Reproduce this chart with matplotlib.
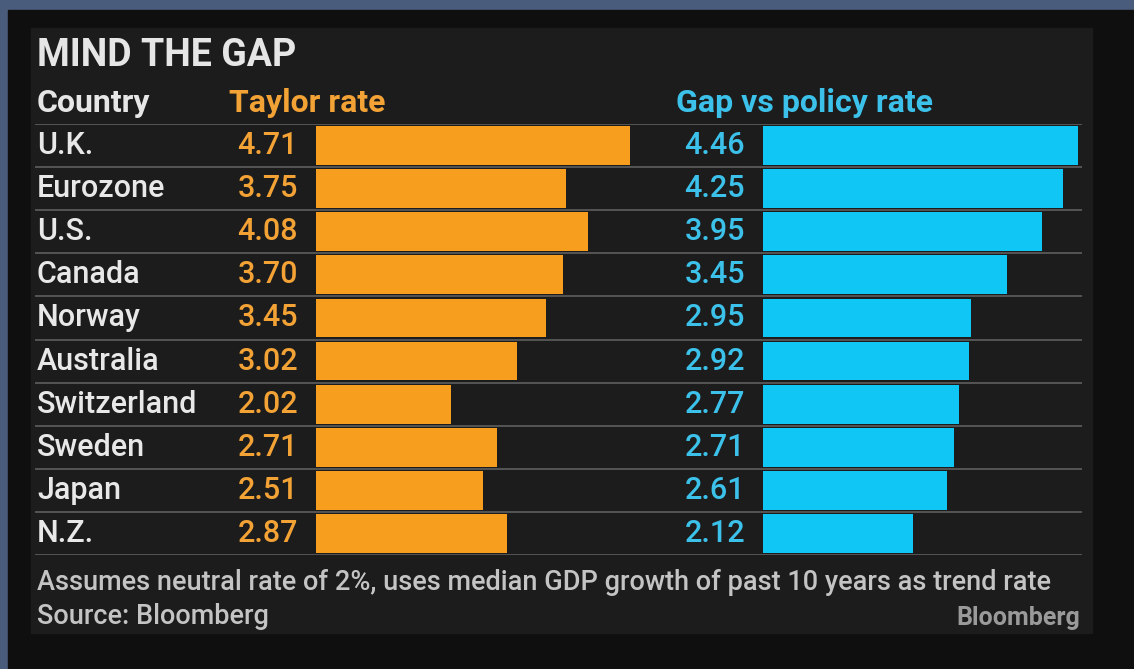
import matplotlib.pyplot as plt
from matplotlib.patches import Rectangle

countries = ['U.K.', 'Eurozone', 'U.S.', 'Canada', 'Norway', 'Australia',
             'Switzerland', 'Sweden', 'Japan', 'N.Z.']
taylor_rate = [4.71, 3.75, 4.08, 3.70, 3.45, 3.02, 2.02, 2.71, 2.51, 2.87]
policy_gap = [4.46, 4.25, 3.95, 3.45, 2.95, 2.92, 2.77, 2.71, 2.61, 2.12]

W, H = 1134, 669
ORANGE = '#f89e1e'
CYAN = '#0fc6f4'
FONT = 'Roboto'

fig = plt.figure(figsize=(W / 100, H / 100), dpi=100)
fig.patch.set_facecolor('#4a5c7c')


def box(x0, y0, x1, y1):
    # pixel box (top-left origin) -> figure fraction rect
    return [x0 / W, 1 - y1 / H, (x1 - x0) / W, (y1 - y0) / H]


def px(x, y):
    return x / W, 1 - y / H


# dark frame and the lighter chart panel
fig.add_artist(Rectangle(px(8, H), (W - 8) / W, (H - 10) / H,
                         transform=fig.transFigure, color='#0f0f0f', zorder=0))
fig.add_artist(Rectangle(px(31, 633), (1092 - 31) / W, (633 - 28) / H,
                         transform=fig.transFigure, color='#1c1c1c', zorder=0))

n = len(countries)
top, bottom = 124, 555
row_h = (bottom - top) / n

# row separators
grid = fig.add_axes(box(35, top, 1082, bottom))
grid.set_xlim(0, 1)
grid.set_ylim(n, 0)
grid.axis('off')
for k in range(n + 1):
    grid.axhline(k, color='#5a5a5a', lw=1.3)

# bar columns share the row layout, each scaled to its own maximum
ax1 = fig.add_axes(box(316, top, 316 + 66.7 * max(taylor_rate), bottom))
ax2 = fig.add_axes(box(763, top, 763 + 70.6 * max(policy_gap), bottom))
for ax, vals, col in [(ax1, taylor_rate, ORANGE), (ax2, policy_gap, CYAN)]:
    ax.barh(range(n), vals, height=0.9, color=col)
    ax.set_xlim(0, max(vals))
    ax.set_ylim(n - 0.5, -0.5)
    ax.axis('off')

for i, name in enumerate(countries):
    yc = top + row_h * (i + 0.5)
    fig.text(*px(37, yc), name, color='#e8e8e8', fontsize=22, family=FONT,
             fontweight='medium', va='center', ha='left')
    fig.text(*px(298, yc), f'{taylor_rate[i]:.2f}', color='#f3a235',
             fontsize=22, family=FONT, fontweight='medium',
             va='center', ha='right')
    fig.text(*px(745, yc), f'{policy_gap[i]:.2f}', color='#3cc2ea',
             fontsize=22, family=FONT, fontweight='medium',
             va='center', ha='right')

fig.text(*px(37, 55), 'MIND THE GAP', color='#e6e6e6', fontsize=27,
         fontweight='bold', family=FONT, va='center')
fig.text(*px(37, 103), 'Country', color='#e6e6e6', fontsize=23,
         fontweight='bold', family=FONT, va='center')
fig.text(*px(229, 103), 'Taylor rate', color='#f3a235', fontsize=23,
         fontweight='bold', family=FONT, va='center')
fig.text(*px(676, 103), 'Gap vs policy rate', color='#3cc2ea', fontsize=23,
         fontweight='bold', family=FONT, va='center')

fig.text(*px(37, 582),
         'Assumes neutral rate of 2%, uses median GDP growth of past 10 years as trend rate',
         color='#c4c4c4', fontsize=19.5, family=FONT, fontweight='medium',
         va='center')
fig.text(*px(37, 617), 'Source: Bloomberg', color='#c4c4c4', fontsize=19.5,
         family=FONT, fontweight='medium', va='center')
fig.text(*px(1080, 618), 'Bloomberg', color='#9a9a9a', fontsize=18,
         fontweight='bold', family=FONT, va='center', ha='right')

fig.savefig('out.png', dpi=100, facecolor=fig.get_facecolor())
